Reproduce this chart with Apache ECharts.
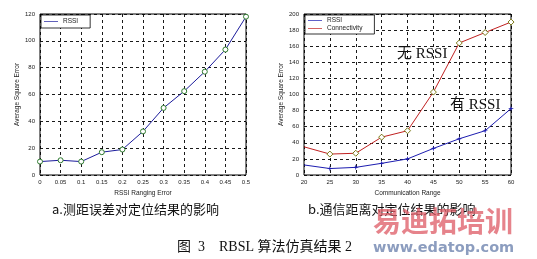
<!DOCTYPE html>
<html><head><meta charset="utf-8">
<script src="https://cdn.jsdelivr.net/npm/echarts@6/dist/echarts.min.js"></script>
<style>html,body{margin:0;padding:0;background:#fff}#c{width:537px;height:259px}</style>
</head><body><div id="c"></div>
<script>
const leftX = [0,0.05,0.1,0.15,0.2,0.25,0.3,0.35,0.4,0.45,0.5];
const leftRSSI = [10,11,10,17,19,32.5,50,62.5,77,93.5,118];
const rightX = [20,25,30,35,40,45,50,55,60];
const rightRSSI = [12.5,8,9.5,14.5,20,33,45,55,82.5];
const rightConn = [35,26,27,47,55,103,164,177,190];
const leftXTicks = ['0','0.05','0.1','0.15','0.2','0.25','0.3','0.35','0.4','0.45','0.5'];

const chart = echarts.init(document.getElementById('c'), null, {renderer:'canvas'});
const tickFont = {fontFamily:'Liberation Sans, Arial', fontSize:6, color:'#222'};
const split = {show:true, lineStyle:{color:'#000', type:[3,3], width:0.9}};
const nameStyle = {fontFamily:'Liberation Sans, Arial', fontSize:6.5, color:'#222'};
const lineIcon = 'path://M0,5L20,5L20,6L0,6Z';
function pts(xs, ys, first){ return xs.map((x,i)=> (i===0 && !first) ? {value:[x,ys[i]], symbol:'none'} : [x,ys[i]]); }

chart.setOption({
  animation:false,
  backgroundColor:'#fff',
  grid:[
    {left:40, right:291, top:14, bottom:84, show:true, borderColor:'#000', borderWidth:1},
    {left:304, right:26, top:14, bottom:84, show:true, borderColor:'#000', borderWidth:1}
  ],
  legend:[
    {left:41, top:15, orient:'vertical', itemWidth:14, itemHeight:6, itemGap:1,
     backgroundColor:'#fff', borderColor:'#000', borderWidth:0.8, padding:[3,12,3,3],
     textStyle:{fontFamily:'Liberation Sans, Arial', fontSize:6.5, color:'#222'},
     data:[{name:'RSSI', icon:lineIcon, itemStyle:{color:'#1c1c9c', borderWidth:0}}]},
    {left:305, top:15, orient:'vertical', itemWidth:14, itemHeight:6, itemGap:1,
     backgroundColor:'#fff', borderColor:'#000', borderWidth:0.8, padding:[2,12,2,3],
     textStyle:{fontFamily:'Liberation Sans, Arial', fontSize:6.5, color:'#222'},
     data:[{name:'RSSI ', icon:lineIcon, itemStyle:{color:'#1c1cb0', borderWidth:0}},
           {name:'Connectivity', icon:lineIcon, itemStyle:{color:'#c02020', borderWidth:0}}]}
  ],
  xAxis:[
    {gridIndex:0, type:'value', min:0, max:0.5, interval:0.05,
     axisLine:{show:false}, axisTick:{show:false}, splitLine:split,
     axisLabel:Object.assign({margin:4, formatter:(v)=>{const i=Math.round(v/0.05);return leftXTicks[i]||'';}}, tickFont),
     name:'RSSI Ranging Error', nameLocation:'middle', nameGap:13, nameTextStyle:nameStyle},
    {gridIndex:1, type:'value', min:20, max:60, interval:5,
     axisLine:{show:false}, axisTick:{show:false}, splitLine:split,
     axisLabel:Object.assign({margin:4}, tickFont),
     name:'Communication Range', nameLocation:'middle', nameGap:13, nameTextStyle:nameStyle}
  ],
  yAxis:[
    {gridIndex:0, type:'value', min:0, max:120, interval:20,
     axisLine:{show:false}, axisTick:{show:false}, splitLine:split,
     axisLabel:Object.assign({margin:5}, tickFont),
     name:'Average Square Error', nameLocation:'middle', nameGap:18, nameTextStyle:nameStyle},
    {gridIndex:1, type:'value', min:0, max:200, interval:20,
     axisLine:{show:false}, axisTick:{show:false}, splitLine:split,
     axisLabel:Object.assign({margin:5}, tickFont),
     name:'Average Square Error', nameLocation:'middle', nameGap:18, nameTextStyle:nameStyle}
  ],
  series:[
    {name:'RSSI', type:'line', xAxisIndex:0, yAxisIndex:0, data:pts(leftX,leftRSSI,true),
     lineStyle:{color:'#1c1c9c', width:1}, itemStyle:{color:'#fff', borderColor:'#2e7a2e', borderWidth:1},
     symbol:'circle', symbolSize:5, showAllSymbol:true, z:3},
    {name:'RSSI ', type:'line', xAxisIndex:1, yAxisIndex:1, data:pts(rightX,rightRSSI,false),
     lineStyle:{color:'#1c1cb0', width:1}, itemStyle:{color:'#1c1cb0'},
     symbol:'path://M5,0L6,4L10,5L6,6L5,10L4,6L0,5L4,4Z', symbolSize:6, showAllSymbol:true, z:3},
    {name:'Connectivity', type:'line', xAxisIndex:1, yAxisIndex:1, data:pts(rightX,rightConn,false),
     lineStyle:{color:'#c02020', width:1}, itemStyle:{color:'#fff', borderColor:'#7c7a18', borderWidth:1},
     symbol:'diamond', symbolSize:6, showAllSymbol:true, z:3}
  ],
  graphic:[
    {type:'text', left:397, top:47, style:{text:'无 RSSI', font:'15px "Liberation Serif", "Noto Sans CJK SC"', fill:'#111'}, z:10},
    {type:'text', left:450, top:98, style:{text:'有 RSSI', font:'15px "Liberation Serif", "Noto Sans CJK SC"', fill:'#111'}, z:10},
    {type:'text', left:52, top:203, style:{text:'a.测距误差对定位结果的影响', font:'13px "Noto Sans CJK SC"', fill:'#111'}},
    {type:'text', left:308, top:203, style:{text:'b.通信距离对定位结果的影响', font:'13px "Noto Sans CJK SC"', fill:'#111'}},
    {type:'text', left:373, top:207, style:{text:'易迪拓培训', font:'bold 28px "Noto Sans CJK SC"', fill:'rgba(222,90,100,0.75)'}, z:20},
    {type:'text', left:177, top:240, style:{text:'图  3    RBSL 算法仿真结果 2', font:'14px "Liberation Serif", "Noto Sans CJK SC"', fill:'#111'}},
    {type:'text', left:373, top:241, style:{text:'www.edatop.com', font:'bold 14.5px "DejaVu Sans"', fill:'rgba(120,140,180,0.85)'}, z:20}
  ]
});
</script></body></html>
